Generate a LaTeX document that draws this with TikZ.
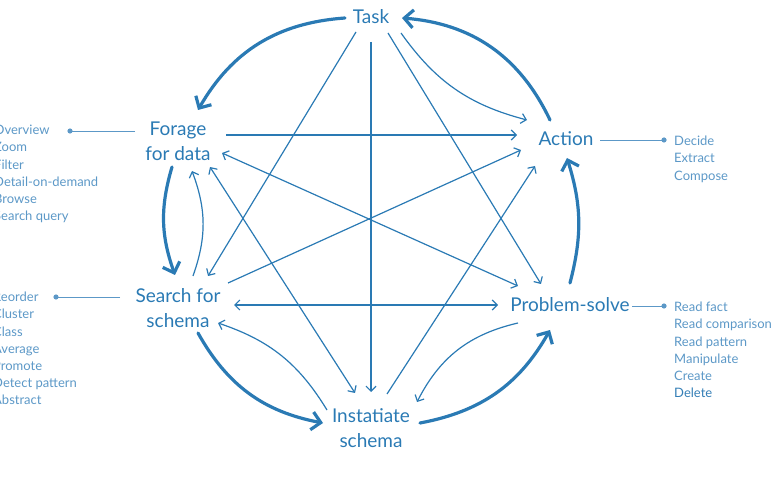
\documentclass[tikz,border=0pt]{standalone}
\usepackage{fontspec}
\setmainfont{Lato}
\usetikzlibrary{arrows.meta, positioning, calc}
\definecolor{stageblue}{RGB}{42,122,180}
\definecolor{listblue}{RGB}{92,152,199}
\definecolor{listdark}{RGB}{52,126,182}

\tikzset{
  stage/.style={font=\fontsize{19}{25}\selectfont, text=stageblue, align=center, inner sep=0pt},
  loopedge/.style={line width=3.2pt, stageblue, line cap=round, -{Straight Barb[length=9pt, width=18pt]}},
  linkedge/.style={line width=1.2pt, stageblue, -{Straight Barb[length=5pt, width=10pt]}},
  bothedge/.style={linkedge, {Straight Barb[length=5pt, width=10pt]}-{Straight Barb[length=5pt, width=10pt]}},
  actlist/.style={font=\fontsize{13}{17.2}\selectfont, text=listblue, align=left, inner sep=0pt},
  leader/.style={line width=0.9pt, listblue},
}

\begin{document}
\begin{tikzpicture}[x=1pt, y=-1pt]
  \useasboundingbox (0,0) rectangle (772,497);

  % Stages
  \node[stage] (task) at (371,17) {Task};
  \node[stage] (forage) at (178,141) {Forage\\for data};
  \node[stage] (action) at (566,139) {Action};
  \node[stage] (search) at (178,308) {Search for\\schema};
  \node[stage] (solve) at (570,305) {Problem-solve};
  \node[stage] (inst) at (371,428) {Instatiate\\schema};

  % Outer loop
  \draw[loopedge] ([shift={(-26,1)}]task.center) to[bend right=28] ([shift={(20,-31)}]forage.center);
  \draw[loopedge] ([shift={(-6,26)}]forage.center) to[bend right=18] ([shift={(-3,-33)}]search.center);
  \draw[loopedge] ([shift={(20,25)}]search.center) to[bend right=25] ([shift={(-48,-5)}]inst.center);
  \draw[loopedge] ([shift={(49,-5)}]inst.center) to[bend right=25] ([shift={(-20,25)}]solve.center);
  \draw[loopedge] ([shift={(0,-22)}]solve.center) to[bend right=16] ([shift={(1,19)}]action.center);
  \draw[loopedge] ([shift={(-16,-19)}]action.center) to[bend right=30] ([shift={(31,1)}]task.center);

  % Inner links
  \draw[linkedge] ([shift={(30,16)}]task.center) to[bend right=20] ([shift={(-39,-19)}]action.center);
  \draw[linkedge] ([shift={(17,16)}]task.center) -- ([shift={(-29,-21)}]solve.center);
  \draw[linkedge] ([shift={(0,25)}]task.center) -- ([shift={(0,-36)}]inst.center);
  \draw[linkedge] ([shift={(-15,15)}]task.center) -- ([shift={(30,-32)}]search.center);
  \draw[linkedge] ([shift={(48,-6)}]forage.center) -- ([shift={(-49,-4)}]action.center);
  \draw[bothedge] ([shift={(44,12)}]forage.center) -- ([shift={(-52,-19)}]solve.center);
  \draw[bothedge] ([shift={(32,26)}]forage.center) -- ([shift={(-16,-35)}]inst.center);
  \draw[linkedge] ([shift={(15,-32)}]search.center) to[bend right=20] ([shift={(14,30)}]forage.center);
  \draw[linkedge] ([shift={(50,-25)}]search.center) -- ([shift={(-45,11)}]action.center);
  \draw[bothedge] ([shift={(56,-3)}]search.center) -- ([shift={(-72,0)}]solve.center);
  \draw[linkedge] ([shift={(-44,-18)}]inst.center) to[bend right=20] ([shift={(40,15)}]search.center);
  \draw[linkedge] ([shift={(-52,18)}]solve.center) to[bend right=25] ([shift={(46,-26)}]inst.center);
  \draw[linkedge] ([shift={(16,-34)}]inst.center) -- ([shift={(-31,27)}]action.center);

  % Activity lists
  \coordinate (fdot) at (70,131);
  \coordinate (sdot) at (56,297);
  \coordinate (adot) at (664,140);
  \coordinate (pdot) at (664,306);
  \draw[leader] ([shift={(-43,-10)}]forage.center) -- (fdot);
  \draw[leader] ([shift={(-58,-11)}]search.center) -- (sdot);
  \draw[leader] ([shift={(34,1)}]action.center) -- (adot);
  \draw[leader] ([shift={(62,1)}]solve.center) -- (pdot);
  \foreach \d in {fdot, sdot, adot, pdot}
    \fill[listblue] (\d) circle (2.6);

  \node[actlist, anchor=north west] (forlist) at (-6,125) {Overview\\Zoom\\Filter\\Detail-on-demand\\Browse\\Search query};
  \node[actlist, anchor=north west] (srchlist) at (-7,292) {Reorder\\Cluster\\Class\\Average\\Promote\\Detect pattern\\Abstract};
  \node[actlist, anchor=north west] (actlist) at (674,136) {Decide\\Extract\\Compose};
  \node[actlist, anchor=north west] (solvelist) at (674,302) {Read fact\\Read comparison\\Read pattern\\Manipulate\\Create\\\textcolor{listdark}{Delete}};
\end{tikzpicture}
\end{document}
